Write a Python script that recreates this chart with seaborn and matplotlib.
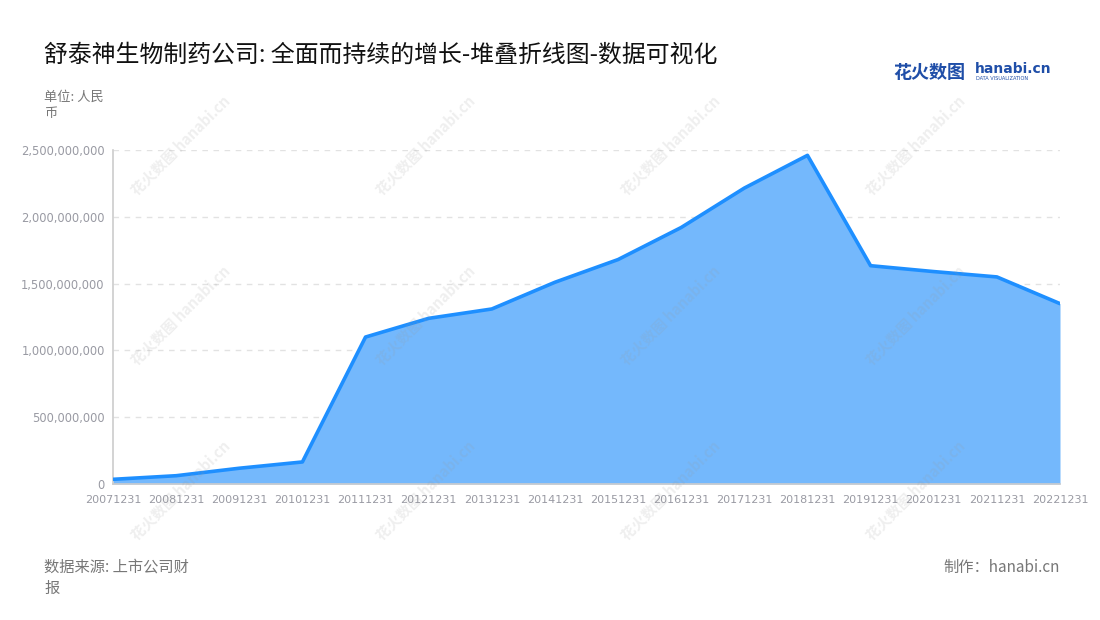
"""舒泰神生物制药公司 — 营收增长面积折线图 (hanabi.cn 风格复刻)."""
import matplotlib
matplotlib.use("Agg")
import matplotlib.pyplot as plt
import pandas as pd
import seaborn as sns
from matplotlib.ticker import FuncFormatter

# 数据 (单位: 人民币)
periods = ["20071231", "20081231", "20091231", "20101231", "20111231",
           "20121231", "20131231", "20141231", "20151231", "20161231",
           "20171231", "20181231", "20191231", "20201231", "20211231",
           "20221231"]
values = [35e6, 62e6, 118e6, 165e6, 1100e6,
          1240e6, 1310e6, 1510e6, 1680e6, 1920e6,
          2215e6, 2460e6, 1634e6, 1590e6, 1550e6,
          1350e6]
y_ticks = [0, 500e6, 1000e6, 1500e6, 2000e6, 2500e6]

TITLE = "舒泰神生物制药公司: 全面而持续的增长-堆叠折线图-数据可视化"
LINE_C = "#1e8fff"
FILL_C = "#74b8fc"
GRAY = "#999aa3"

sns.set_style("white")
plt.rcParams["font.family"] = ["Noto Sans CJK SC", "DejaVu Sans"]

df = pd.DataFrame({"period": periods, "value": values})
df["pos"] = range(len(df))

fig = plt.figure(figsize=(11, 6.2), dpi=100)
ax = fig.add_axes([113 / 1100, 1 - 484 / 620, (1060 - 113) / 1100, (484 - 150) / 620])

ax.fill_between(df["pos"], df["value"], color=FILL_C, lw=0, zorder=2)
sns.lineplot(data=df, x="pos", y="value", color=LINE_C, lw=2.6, ax=ax, zorder=3)

ax.set_xlim(0, len(df) - 1)
ax.set_ylim(0, 2.5e9)
ax.set_xticks(df["pos"])
ax.set_xticklabels(df["period"], family="DejaVu Sans")
ax.set_yticks(y_ticks)
ax.yaxis.set_major_formatter(FuncFormatter(lambda v, _: f"{v:,.0f}"))
for lbl in ax.get_yticklabels():
    lbl.set_family("DejaVu Sans")
ax.tick_params(axis="both", labelsize=8, colors=GRAY, labelcolor=GRAY)
ax.tick_params(axis="x", length=5, color="#cccccc", pad=3)
ax.tick_params(axis="y", length=0, pad=6, labelsize=8.3)
ax.set_xlabel("")
ax.set_ylabel("")
ax.grid(axis="y", color="#e2e2e2", ls=(0, (4, 4)), lw=1, zorder=1)
for side in ("top", "right"):
    ax.spines[side].set_visible(False)
ax.spines["left"].set_color("#cccccc")
ax.spines["bottom"].set_color("#cccccc")
ax.spines["left"].set_linewidth(1.2)
ax.spines["bottom"].set_linewidth(1.2)

# 标题和注释
fig.text(44 / 1100, 1 - 55 / 620, TITLE, fontsize=17.2, color="#111111", va="center")
fig.text(44 / 1100, 1 - 97 / 620, "单位: 人民", fontsize=9.5, color="#777777", va="center")
fig.text(44 / 1100, 1 - 114 / 620, "币", fontsize=9.5, color="#777777", va="center")
fig.text(44 / 1100, 1 - 567 / 620, "数据来源: 上市公司财", fontsize=11, color="#777777", va="center")
fig.text(44 / 1100, 1 - 588 / 620, "报", fontsize=11, color="#777777", va="center")
fig.text(1060 / 1100, 1 - 567 / 620, "制作：hanabi.cn", fontsize=11, color="#777777",
         va="center", ha="right")

# logo
fig.text(893 / 1100, 1 - 72 / 620, "花火数图", fontsize=13, color="#1f4ea8",
         fontweight="bold", va="center")
fig.text(975 / 1100, 1 - 69 / 620, "hanabi.cn", fontsize=10, color="#1f4ea8",
         fontweight="bold", va="center", family="DejaVu Sans")
fig.text(976 / 1100, 1 - 79 / 620, "DATA VISUALIZATION", fontsize=3.6, color="#1f4ea8",
         va="center", family="DejaVu Sans")

# 水印
for cy in (145, 315, 490):
    for cx in (180, 425, 670, 915):
        fig.text(cx / 1100, 1 - cy / 620, "花火数图 hanabi.cn", fontsize=10.5,
                 color="#9a9a9a", alpha=0.16, rotation=45, ha="center", va="center",
                 fontweight="bold", zorder=10)

fig.savefig("out.png", dpi=100)
